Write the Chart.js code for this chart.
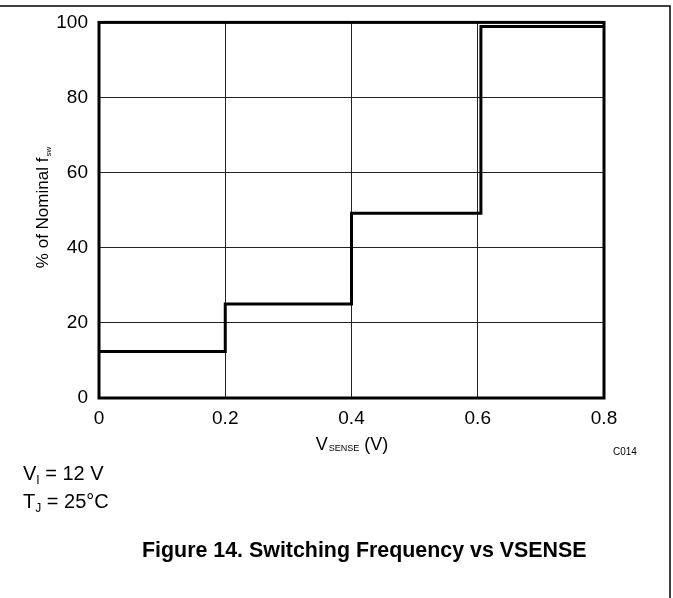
<!DOCTYPE html>
<html>
<head>
<meta charset="utf-8">
<script src="https://cdn.jsdelivr.net/npm/chart.js@4/dist/chart.umd.min.js"></script>
<style>
  html, body { margin: 0; padding: 0; background: #fff; }
  #wrap { position: relative; width: 673px; height: 598px; overflow: hidden; }
  #chart { position: absolute; left: 0; top: 0; }
  .note { position: absolute; font-family: "Liberation Sans", Arial, sans-serif; color: #000; white-space: nowrap; }
  .note sub { font-size: 12px; vertical-align: -4px; }
</style>
</head>
<body>
<div id="wrap">
  <canvas id="chart" width="673" height="598"></canvas>
  <div class="note" style="left:23px; top:462px; font-size:20px;">V<sub>I</sub> = 12 V</div>
  <div class="note" style="left:23px; top:490px; font-size:20px;">T<sub>J</sub> = 25°C</div>
  <div class="note" style="left:142px; top:538px; font-size:21.4px; font-weight:bold;">Figure 14. Switching Frequency vs VSENSE</div>
</div>
<script>
// step points
const vsense = [0, 0.2, 0.4, 0.605, 0.8];
const pctNominal = [12.4, 25, 49.2, 98.9, 98.9];

const xTicks = [0, 0.2, 0.4, 0.6, 0.8];
const xTickLabels = ['0', '0.2', '0.4', '0.6', '0.8'];
const yTicks = [0, 20, 40, 60, 80, 100];
const yTickLabels = ['0', '20', '40', '60', '80', '100'];

const FONT = '"Liberation Sans", Arial, sans-serif';

// frame, axis titles and the small code label
const decor = {
  id: 'decor',
  beforeDraw(chart) {
    const ctx = chart.ctx;
    ctx.save();
    ctx.strokeStyle = '#000';
    ctx.lineWidth = 1.5;
    ctx.beginPath();
    ctx.moveTo(0, 6);
    ctx.lineTo(670, 6);
    ctx.lineTo(670, 598);
    ctx.stroke();
    ctx.restore();
  },
  afterDraw(chart) {
    const ctx = chart.ctx;
    const a = chart.chartArea;
    ctx.save();
    ctx.strokeStyle = '#000';
    ctx.lineWidth = 3;
    ctx.strokeRect(a.left, a.top, a.right - a.left, a.bottom - a.top);

    ctx.fillStyle = '#000';
    ctx.textBaseline = 'alphabetic';

    // x title: V_SENSE (V)
    ctx.font = '18px ' + FONT;
    const w1 = ctx.measureText('V').width;
    const w3 = ctx.measureText(' (V)').width;
    ctx.font = '9px ' + FONT;
    const w2 = ctx.measureText('SENSE').width;
    let x = (a.left + a.right) / 2 - (w1 + w2 + w3) / 2;
    const by = 450;
    ctx.font = '18px ' + FONT;
    ctx.fillText('V', x, by);
    ctx.font = '9px ' + FONT;
    ctx.fillText('SENSE', x + w1 + 1, by + 1);
    ctx.font = '18px ' + FONT;
    ctx.fillText(' (V)', x + w1 + w2 + 1, by);

    // y title: % of Nominal f_sw
    ctx.translate(48, 208);
    ctx.rotate(-Math.PI / 2);
    ctx.font = '17px ' + FONT;
    const m = ctx.measureText('% of Nominal f').width;
    ctx.font = '8px ' + FONT;
    const s = ctx.measureText('sw').width;
    const sx = -(m + s) / 2;
    ctx.font = '17px ' + FONT;
    ctx.fillText('% of Nominal f', sx, 0);
    ctx.font = '8px ' + FONT;
    ctx.fillText('sw', sx + m + 1, 3);
    ctx.restore();

    ctx.save();
    ctx.fillStyle = '#000';
    ctx.font = '10px ' + FONT;
    ctx.textAlign = 'left';
    ctx.fillText('C014', 613, 455);
    ctx.restore();
  }
};

new Chart(document.getElementById('chart'), {
  type: 'line',
  data: {
    datasets: [{
      data: vsense.map((v, i) => ({ x: v, y: pctNominal[i] })),
      borderColor: '#000',
      borderWidth: 3,
      pointRadius: 0,
      stepped: true,
      fill: false
    }]
  },
  options: {
    responsive: false,
    animation: false,
    layout: { padding: { left: 0, top: 21, right: 69, bottom: 0 } },
    plugins: { legend: { display: false }, tooltip: { enabled: false } },
    scales: {
      x: {
        type: 'linear',
        min: 0,
        max: 0.8,
        afterBuildTicks: scale => { scale.ticks = xTicks.map(v => ({ value: v })); },
        afterFit: scale => { scale.height = 200; },
        grid: { color: '#222', lineWidth: 1, drawTicks: false },
        border: { display: false },
        ticks: {
          padding: 9,
          color: '#000',
          font: { family: FONT, size: 19 },
          maxRotation: 0,
          callback: (v, i) => xTickLabels[i]
        }
      },
      y: {
        type: 'linear',
        min: 0,
        max: 100,
        afterBuildTicks: scale => { scale.ticks = yTicks.map(v => ({ value: v })); },
        afterFit: scale => { scale.width = 99; },
        grid: { color: '#222', lineWidth: 1, drawTicks: false },
        border: { display: false },
        ticks: {
          padding: 11,
          color: '#000',
          font: { family: FONT, size: 19 },
          callback: (v, i) => yTickLabels[i]
        }
      }
    }
  },
  plugins: [decor]
});
</script>
</body>
</html>
